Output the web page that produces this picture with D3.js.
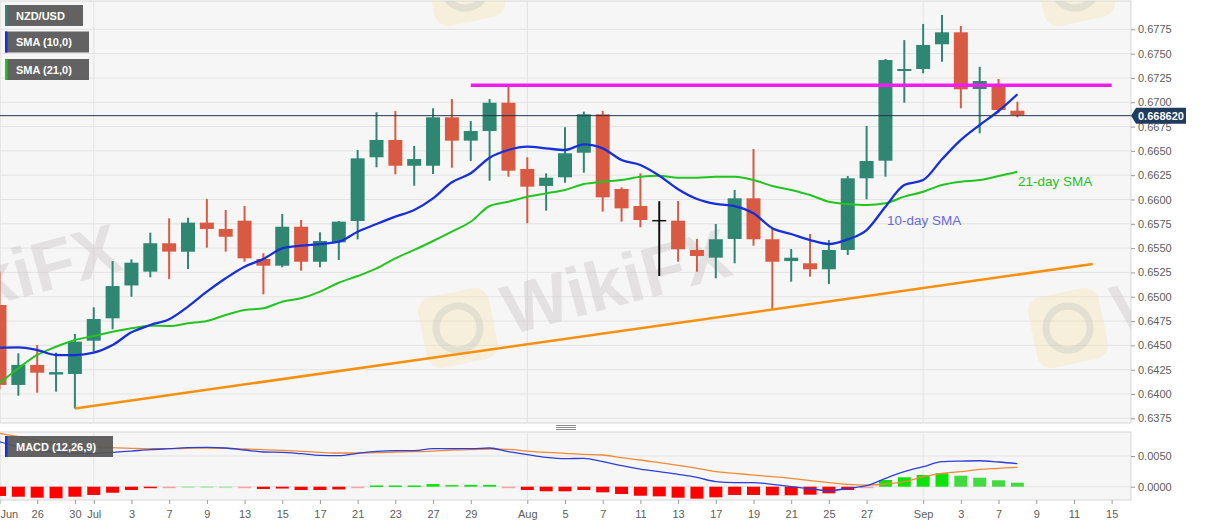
<!DOCTYPE html>
<html>
<head>
<meta charset="utf-8">
<script src="https://cdnjs.cloudflare.com/ajax/libs/d3/7.8.5/d3.min.js"></script>
<style>
  body { margin: 0; background: #fff; }
  svg { display: block; font-family: "Liberation Sans", Arial, sans-serif; }
  .axis text { fill: #5c5c5c; font-size: 11px; }
  .axis line { stroke: #9a9a9a; }
  .axis path { stroke: none; }
</style>
</head>
<body>
<script>
// trading days shown on the chart (NZD/USD daily)
const dates = [
  '2020-06-24','2020-06-25','2020-06-26','2020-06-29','2020-06-30',
  '2020-07-01','2020-07-02','2020-07-03','2020-07-06','2020-07-07','2020-07-08','2020-07-09','2020-07-10',
  '2020-07-13','2020-07-14','2020-07-15','2020-07-16','2020-07-17','2020-07-20','2020-07-21','2020-07-22',
  '2020-07-23','2020-07-24','2020-07-27','2020-07-28','2020-07-29','2020-07-30','2020-07-31',
  '2020-08-03','2020-08-04','2020-08-05','2020-08-06','2020-08-07','2020-08-10','2020-08-11','2020-08-12',
  '2020-08-13','2020-08-14','2020-08-17','2020-08-18','2020-08-19','2020-08-20','2020-08-21','2020-08-24',
  '2020-08-25','2020-08-26','2020-08-27','2020-08-28','2020-08-31',
  '2020-09-01','2020-09-02','2020-09-03','2020-09-04','2020-09-07','2020-09-08'
];
const opens = [
  0.64915,0.64093,0.64299,0.64200,0.64206,
  0.64548,0.64778,0.65116,0.65258,0.65550,0.65463,0.65762,0.65697,
  0.65782,0.65388,0.65319,0.65720,0.65360,0.65560,0.65779,0.66434,
  0.66612,0.66347,0.66347,0.66845,0.66605,0.66704,0.66995,
  0.66314,0.66139,0.66228,0.66481,0.66876,0.66108,0.65933,0.65782,
  0.65782,0.65481,0.65402,0.65594,0.66012,0.65591,0.65367,0.65344,
  0.65282,0.65481,0.66218,0.66399,0.67321,
  0.67342,0.67596,0.67719,0.67136,0.67170,0.66913
];
const highs = [
  0.65257,0.64418,0.64504,0.64425,0.64617,
  0.64891,0.65367,0.65385,0.65659,0.65807,0.65813,0.66005,0.65892,
  0.65933,0.65447,0.65851,0.65789,0.65663,0.65779,0.66509,0.66897,
  0.66910,0.66550,0.66938,0.67033,0.66807,0.67033,0.67167,
  0.66434,0.66269,0.66742,0.66903,0.66910,0.66125,0.66269,0.65982,
  0.65984,0.65594,0.65748,0.66097,0.66519,0.65697,0.65491,0.65645,
  0.65583,0.66242,0.66756,0.67445,0.67639,
  0.67805,0.67897,0.67784,0.67365,0.67239,0.67006
];
const lows = [
  0.64050,0.63982,0.64013,0.64024,0.63850,
  0.64435,0.64665,0.65000,0.65200,0.65181,0.65285,0.65505,0.65463,
  0.65360,0.65025,0.65303,0.65268,0.65303,0.65378,0.65590,0.66331,
  0.66259,0.66142,0.66262,0.66327,0.66396,0.66193,0.66234,
  0.65755,0.65885,0.66173,0.66276,0.65875,0.65772,0.65714,0.65214,
  0.65360,0.65257,0.65190,0.65344,0.65525,0.64871,0.65155,0.65206,
  0.65131,0.65429,0.66002,0.66234,0.66995,
  0.67298,0.67417,0.66938,0.66681,0.66893,0.66845
];
const closes = [
  0.64093,0.64299,0.64219,0.64225,0.64538,
  0.64771,0.65110,0.65350,0.65550,0.65464,0.65762,0.65697,0.65617,
  0.65395,0.65319,0.65720,0.65360,0.65573,0.65772,0.66423,0.66612,
  0.66347,0.66416,0.66845,0.66605,0.66704,0.66995,0.66296,
  0.66132,0.66224,0.66475,0.66876,0.66022,0.65909,0.65789,0.65782,
  0.65488,0.65419,0.65591,0.66012,0.65591,0.65360,0.65401,0.65282,
  0.65481,0.66218,0.66396,0.67434,0.67342,
  0.67589,0.67719,0.67133,0.67218,0.66920,0.66869
];
const sma10 = [
  0.64476,0.64480,0.64452,0.64401,0.64400,
  0.64425,0.64504,0.64634,0.64709,0.64768,0.64898,0.65052,0.65190,
  0.65309,0.65388,0.65498,0.65525,0.65542,0.65566,0.65669,0.65748,
  0.65823,0.65892,0.66012,0.66177,0.66269,0.66430,0.66509,
  0.66543,0.66526,0.66509,0.66567,0.66526,0.66406,0.66355,0.66245,
  0.66105,0.66005,0.65954,0.65933,0.65858,0.65704,0.65645,0.65583,
  0.65542,0.65590,0.65686,0.65926,0.66149,
  0.66200,0.66413,0.66612,0.66766,0.66910,0.67082
];
const sma21 = [
  0.64110,0.64264,0.64401,0.64486,0.64555,
  0.64596,0.64640,0.64675,0.64702,0.64700,0.64727,0.64751,0.64812,
  0.64864,0.64881,0.64949,0.64984,0.65052,0.65144,0.65213,0.65292,
  0.65395,0.65481,0.65573,0.65669,0.65771,0.65933,0.65977,
  0.66029,0.66063,0.66097,0.66159,0.66183,0.66200,0.66234,0.66245,
  0.66224,0.66224,0.66234,0.66234,0.66200,0.66139,0.66098,0.66046,
  0.65977,0.65954,0.65943,0.65961,0.66029,
  0.66080,0.66149,0.66183,0.66200,0.66241,0.66286
];
const macdLine = [
  0.00733,0.00651,0.00598,0.00560,0.00544,
  0.00544,0.00560,0.00581,0.00603,0.00619,0.00635,0.00641,0.00630,
  0.00598,0.00565,0.00560,0.00538,0.00511,0.00505,0.00544,0.00576,
  0.00587,0.00587,0.00619,0.00619,0.00619,0.00630,0.00570,
  0.00522,0.00478,0.00456,0.00462,0.00407,0.00342,0.00288,0.00244,
  0.00201,0.00152,0.00082,0.00065,0.00065,0.00038,0.00000,-0.00033,
  -0.00065,-0.00027,0.00016,0.00136,0.00244,
  0.00326,0.00407,0.00418,0.00423,0.00402,0.00375
];
const signalLine = [
  0.00870,0.00814,0.00760,0.00717,0.00679,
  0.00651,0.00635,0.00625,0.00619,0.00619,0.00625,0.00630,0.00625,
  0.00614,0.00603,0.00592,0.00576,0.00560,0.00549,0.00549,0.00554,
  0.00565,0.00570,0.00581,0.00598,0.00603,0.00614,0.00608,
  0.00581,0.00560,0.00544,0.00527,0.00516,0.00473,0.00435,0.00391,
  0.00348,0.00300,0.00244,0.00218,0.00190,0.00163,0.00136,0.00098,
  0.00065,0.00038,0.00027,0.00044,0.00082,
  0.00163,0.00218,0.00244,0.00283,0.00300,0.00316
];
const histogram = [
  -0.00151,-0.00163,-0.00179,-0.00189,-0.00163,
  -0.00135,-0.00098,-0.00054,-0.00021,-0.00010,0.00005,0.00005,0.00002,
  -0.00010,-0.00037,-0.00030,-0.00054,-0.00054,-0.00045,-0.00010,0.00020,
  0.00020,0.00020,0.00043,0.00030,0.00030,0.00030,-0.00010,
  -0.00054,-0.00075,-0.00075,-0.00054,-0.00092,-0.00119,-0.00147,-0.00157,
  -0.00179,-0.00195,-0.00173,-0.00135,-0.00135,-0.00140,-0.00140,-0.00130,
  -0.00108,-0.00054,-0.00005,0.00109,0.00153,
  0.00190,0.00218,0.00179,0.00147,0.00104,0.00065
];
// drawn levels
const trendDates = ['2020-06-30', '2020-09-14'];
const trendValues = [0.6385, 0.65337];
const resistDates = ['2020-07-29', '2020-09-15'];
const resistValues = [0.67175, 0.67175];
const lastPrice = 0.66862;
const lastPriceLabel = '0.668620';

// axis ticks
const priceTicks = [0.6375,0.6400,0.6425,0.6450,0.6475,0.6500,0.6525,0.6550,0.6575,0.6600,0.6625,0.6650,0.6675,0.6700,0.6725,0.6750,0.6775];
const macdTicks = [0, 0.005];
const tickDates = ['2020-06-24','2020-06-26','2020-06-30','2020-07-01','2020-07-03','2020-07-07','2020-07-09',
  '2020-07-13','2020-07-15','2020-07-17','2020-07-21','2020-07-23','2020-07-27','2020-07-29','2020-08-03',
  '2020-08-05','2020-08-07','2020-08-11','2020-08-13','2020-08-17','2020-08-19','2020-08-21','2020-08-25',
  '2020-08-27','2020-09-01','2020-09-03','2020-09-07','2020-09-09','2020-09-11','2020-09-15'];
const tickLabels = ['Jun','26','30','Jul','3','7','9','13','15','17','21','23','27','29','Aug',
  '5','7','11','13','17','19','21','25','27','Sep','3','7','9','11','15'];
const monthStarts = ['2020-07-01', '2020-08-03', '2020-09-01'];

const width = 1207;
const height = 526;
const plotRight = 1131;
const mainTop = 1, mainBottom = 423;
const macdTop = 432, macdBottom = 500;

const day0 = new Date('2020-06-24T00:00:00Z');
const tradeIndex = (s) => d3.utcDays(day0, new Date(s + 'T00:00:00Z'))
  .filter((d) => d.getUTCDay() % 6 !== 0).length;

const xScale = d3.scaleLinear().domain([0, 59]).range([-0.5, -0.5 + 59 * 18.85]);
const yScale = d3.scaleLinear().domain([0.6375, 0.6775]).range([418.3, 29.3]);
const mScale = d3.scaleLinear().domain([0, 0.005]).range([486.7, 456]);
const xd = (s) => xScale(tradeIndex(s));

const canvas = d3.select('body').append('svg')
  .attr('width', width)
  .attr('height', height);

canvas.append('rect').attr('width', width).attr('height', height).attr('fill', '#fff');

const defs = canvas.append('defs');
defs.append('clipPath').attr('id', 'clipMain')
  .append('rect').attr('x', 0).attr('y', mainTop).attr('width', plotRight).attr('height', mainBottom - mainTop);
defs.append('clipPath').attr('id', 'clipMacd')
  .append('rect').attr('x', 0).attr('y', macdTop).attr('width', plotRight).attr('height', macdBottom - macdTop);

// panel backgrounds
canvas.append('rect').attr('x', 0).attr('y', mainTop).attr('width', plotRight).attr('height', mainBottom - mainTop)
  .attr('fill', '#f6f6f6').attr('stroke', '#d6d6d6');
canvas.append('rect').attr('x', 0).attr('y', macdTop).attr('width', plotRight).attr('height', macdBottom - macdTop)
  .attr('fill', '#f6f6f6').attr('stroke', '#d6d6d6');

// grid
canvas.append('g').selectAll('line').data(priceTicks).join('line')
  .attr('x1', 0).attr('x2', plotRight)
  .attr('y1', (d) => yScale(d)).attr('y2', (d) => yScale(d))
  .attr('stroke', '#e3e3e3');
canvas.append('g').selectAll('line').data(macdTicks).join('line')
  .attr('x1', 0).attr('x2', plotRight)
  .attr('y1', (d) => mScale(d)).attr('y2', (d) => mScale(d))
  .attr('stroke', '#e3e3e3');
canvas.append('g').selectAll('line').data(monthStarts).join('line')
  .attr('x1', xd).attr('x2', xd)
  .attr('y1', mainTop).attr('y2', mainBottom)
  .attr('stroke', '#e3e3e3');
canvas.append('g').selectAll('line').data(monthStarts).join('line')
  .attr('x1', xd).attr('x2', xd)
  .attr('y1', macdTop).attr('y2', macdBottom)
  .attr('stroke', '#e3e3e3');

// watermark
const wm = canvas.append('g').attr('clip-path', 'url(#clipMain)');
[[458, 328], [1068, 328], [465, -14], [1075, -14]].forEach(([cx, cy]) => {
  const g = wm.append('g').attr('transform', `translate(${cx},${cy}) rotate(-12)`);
  g.append('rect').attr('x', -36).attr('y', -36).attr('width', 72).attr('height', 72).attr('rx', 14)
    .attr('fill', '#f3e3a8').attr('opacity', 0.35);
  g.append('circle').attr('r', 22).attr('fill', 'none').attr('stroke', '#bbb').attr('stroke-width', 7).attr('opacity', 0.3);
});
[[-100, 330], [510, 335], [1120, 335]].forEach(([tx, ty]) => {
  wm.append('text').attr('transform', `translate(${tx},${ty}) rotate(-15)`)
    .attr('font-size', 70).attr('font-weight', 'bold')
    .attr('fill', '#c8c4c2').attr('opacity', 0.4)
    .text('WikiFX');
});

// candles
const rows = dates.map((d, i) => ({ date: d, o: opens[i], h: highs[i], l: lows[i], c: closes[i] }));
const candleColor = (r) => r.c > r.o ? '#2f8771' : (r.c < r.o ? '#d95a43' : '#111');
const candles = canvas.append('g').attr('clip-path', 'url(#clipMain)');
const bodyW = 14;

candles.selectAll('line.wick').data(rows).join('line')
  .attr('class', 'wick')
  .attr('x1', (r) => xd(r.date)).attr('x2', (r) => xd(r.date))
  .attr('y1', (r) => yScale(r.h)).attr('y2', (r) => yScale(r.l))
  .attr('stroke', candleColor).attr('stroke-width', 2);

candles.selectAll('rect.body').data(rows.filter((r) => r.c !== r.o)).join('rect')
  .attr('class', 'body')
  .attr('x', (r) => xd(r.date) - bodyW / 2)
  .attr('width', bodyW)
  .attr('y', (r) => yScale(Math.max(r.o, r.c)))
  .attr('height', (r) => Math.max(1.5, Math.abs(yScale(r.o) - yScale(r.c))))
  .attr('fill', candleColor);

candles.selectAll('line.doji').data(rows.filter((r) => r.c === r.o)).join('line')
  .attr('class', 'doji')
  .attr('x1', (r) => xd(r.date) - bodyW / 2).attr('x2', (r) => xd(r.date) + bodyW / 2)
  .attr('y1', (r) => yScale(r.c)).attr('y2', (r) => yScale(r.c))
  .attr('stroke', '#111').attr('stroke-width', 1.5);

// moving averages
const lineGen = (vals) => d3.line()
  .x((d, i) => xd(dates[i]))
  .y((d) => yScale(d))
  .curve(d3.curveMonotoneX)(vals);

const overlays = canvas.append('g').attr('clip-path', 'url(#clipMain)');
overlays.append('path').attr('d', lineGen(sma21))
  .attr('fill', 'none').attr('stroke', '#22c41f').attr('stroke-width', 2);
overlays.append('path').attr('d', lineGen(sma10))
  .attr('fill', 'none').attr('stroke', '#1730d6').attr('stroke-width', 2.3);

// trend lines
overlays.append('path')
  .datum(trendDates.map((d, i) => [xd(d), yScale(trendValues[i])]))
  .attr('d', d3.line())
  .attr('fill', 'none').attr('stroke', '#f8900f').attr('stroke-width', 2.5);
overlays.append('path')
  .datum(resistDates.map((d, i) => [xd(d), yScale(resistValues[i])]))
  .attr('d', d3.line())
  .attr('fill', 'none').attr('stroke', '#f01cf0').attr('stroke-width', 3.5);

// last price line
overlays.append('line')
  .attr('x1', 0).attr('x2', plotRight)
  .attr('y1', yScale(lastPrice)).attr('y2', yScale(lastPrice))
  .attr('stroke', '#1e3550').attr('stroke-width', 1);

// annotations
canvas.append('text').attr('x', 1018).attr('y', 186)
  .attr('font-size', 13.5).attr('fill', '#1fbf1f').text('21-day SMA');
canvas.append('text').attr('x', 887).attr('y', 225)
  .attr('font-size', 13.5).attr('fill', '#6a6ad8').text('10-day SMA');

// price axis
canvas.append('g')
  .attr('class', 'axis')
  .attr('transform', `translate(${plotRight}, 0)`)
  .call(d3.axisRight(yScale).tickValues(priceTicks).tickSize(4).tickSizeOuter(0).tickPadding(3)
    .tickFormat(d3.format('.4f')));

// last price tag
const py = yScale(lastPrice);
canvas.append('path')
  .attr('d', `M${plotRight},${py} L${plotRight + 5},${py - 8} L1186,${py - 8} L1186,${py + 8} L${plotRight + 5},${py + 8} Z`)
  .attr('fill', '#1f3b5e');
canvas.append('text').attr('x', plotRight + 7).attr('y', py + 4)
  .attr('font-size', 11).attr('font-weight', 'bold').attr('fill', '#fff')
  .text(lastPriceLabel);

// MACD panel
const macdG = canvas.append('g').attr('clip-path', 'url(#clipMacd)');
const histColor = (v, i) => {
  if (v >= 0) {
    if (v < 0.0001) return '#a8eca8';
    return (i > 0 && v < histogram[i - 1]) ? '#3fdc3f' : '#0be40b';
  }
  return v > -0.00015 ? '#f4a3a3' : '#ff0000';
};
macdG.selectAll('rect').data(histogram).join('rect')
  .attr('x', (d, i) => xd(dates[i]) - 6.5)
  .attr('width', 13)
  .attr('y', (d) => Math.min(mScale(d), mScale(0)))
  .attr('height', (d) => Math.max(1.5, Math.abs(mScale(d) - mScale(0))))
  .attr('fill', histColor);

const mLine = d3.line().x((d, i) => xd(dates[i])).y((d) => mScale(d)).curve(d3.curveMonotoneX);
macdG.append('path').attr('d', mLine(signalLine))
  .attr('fill', 'none').attr('stroke', '#f08a35').attr('stroke-width', 1.3);
macdG.append('path').attr('d', mLine(macdLine))
  .attr('fill', 'none').attr('stroke', '#2c3ed8').attr('stroke-width', 1.3);

canvas.append('g')
  .attr('class', 'axis')
  .attr('transform', `translate(${plotRight}, 0)`)
  .call(d3.axisRight(mScale).tickValues(macdTicks).tickSize(4).tickSizeOuter(0).tickPadding(3)
    .tickFormat(d3.format('.4f')));

// date axis
const xAxisG = canvas.append('g')
  .attr('class', 'axis')
  .attr('transform', `translate(0, ${macdBottom})`)
  .call(d3.axisBottom(xScale).tickValues(tickDates.map(tradeIndex)).tickSize(4).tickSizeOuter(0).tickPadding(6)
    .tickFormat((d, i) => tickLabels[i]));
xAxisG.selectAll('.tick').filter((d, i) => i === 0).select('text')
  .attr('text-anchor', 'start').attr('x', -xScale(0));

// panel splitter
canvas.append('g').selectAll('line').data([425.5, 427.5, 429.5]).join('line')
  .attr('x1', 556).attr('x2', 576).attr('y1', (d) => d).attr('y2', (d) => d)
  .attr('stroke', '#8a8a8a').attr('stroke-width', 1);

// legend boxes
const legends = [
  { label: 'NZD/USD', color: '#2f8771', y: 5, w: 78 },
  { label: 'SMA (10,0)', color: '#1730d6', y: 31.5, w: 84 },
  { label: 'SMA (21,0)', color: '#22c41f', y: 59, w: 84 },
  { label: 'MACD (12,26,9)', color: '#1730d6', y: 436, w: 108 }
];
const lg = canvas.append('g').selectAll('g').data(legends).join('g')
  .attr('transform', (d) => `translate(5, ${d.y})`);
lg.append('rect').attr('width', (d) => d.w).attr('height', 21)
  .attr('fill', '#555').attr('fill-opacity', 0.92);
lg.append('rect').attr('width', 2.5).attr('height', 21).attr('fill', (d) => d.color);
lg.append('text').attr('x', 11).attr('y', 14.5)
  .attr('font-size', 11).attr('font-weight', 'bold').attr('fill', '#fff')
  .text((d) => d.label);
</script>
</body>
</html>
